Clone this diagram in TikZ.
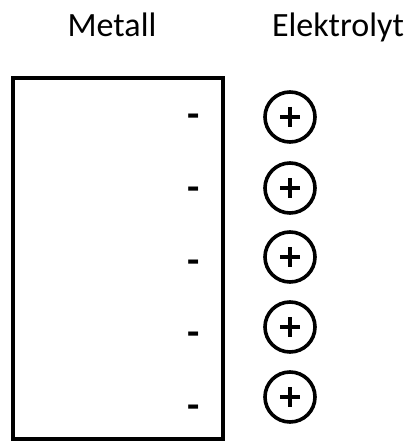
\documentclass[tikz,border=0pt]{standalone}
\usepackage{fontspec}
\setmainfont{Carlito}
\usetikzlibrary{calc}
\begin{document}
\begin{tikzpicture}[x=1pt,y=-1pt,
  heading/.style={font=\fontsize{34}{40}\selectfont, inner sep=0pt, anchor=base},
  metalbox/.style={draw, line width=4pt, minimum width=210pt, minimum height=361pt, inner sep=0pt},
  charge/.style={font=\bfseries\fontsize{40}{40}\selectfont, inner sep=0pt},
  ion/.style={draw, circle, line width=3.6pt, minimum size=50pt, inner sep=0pt}]
  \useasboundingbox (0,0) rectangle (410,441);

  % column headings
  \node[heading] (hm) at (112,37) {Metall};
  \node[heading] (he) at (338,37) {Elektrolyt};

  % metal electrode
  \node[metalbox] (metal) at (117.5,258.5) {};

  % negative surface charges and the cation layer in the electrolyte
  \foreach \i/\ym/\yc in {1/121/117, 2/194/188, 3/267/257, 4/339/327, 5/412/397} {
    \node[charge] (m\i) at (194,\ym) {-};
    \node[ion] (c\i) at (290,\yc) {};
    \draw[line width=3.2pt] ($(c\i)+(-10,0)$) -- ($(c\i)+(10,0)$)
                            ($(c\i)+(0,-10)$) -- ($(c\i)+(0,10)$);
  }
\end{tikzpicture}
\end{document}
